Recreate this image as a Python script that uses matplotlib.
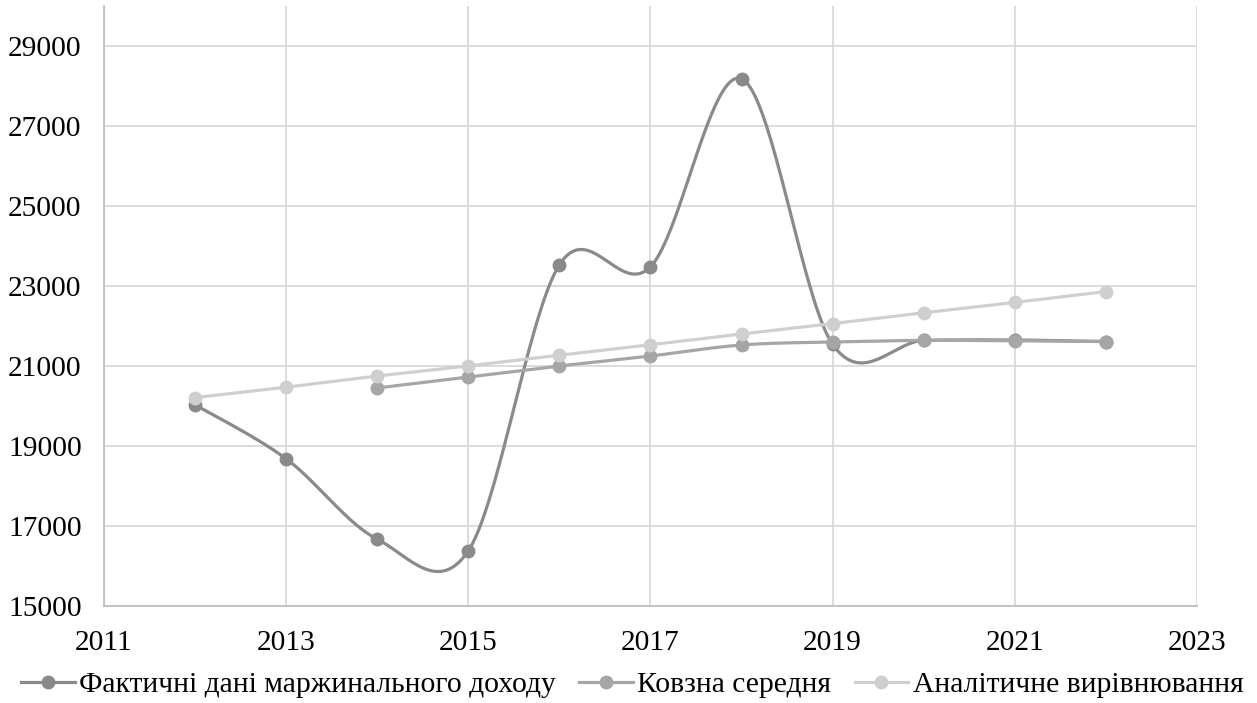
import numpy as np
import matplotlib.pyplot as plt

# Марджинальний дохід по роках
years = [2012, 2013, 2014, 2015, 2016, 2017, 2018, 2019, 2020, 2021, 2022]
actual = [20030, 18680, 16670, 16380, 23530, 23480, 28180, 21540, 21640, 21650, 21610]

ma_years = [2014, 2015, 2016, 2017, 2018, 2019, 2020, 2021, 2022]
moving_avg = [20450, 20725, 21000, 21250, 21525, 21600, 21640, 21630, 21610]

trend = [20210, 20470, 20750, 21000, 21270, 21530, 21800, 22060, 22330, 22590, 22860]

labels = ["Фактичні дані маржинального доходу", "Ковзна середня", "Аналітичне вирівнювання"]
colors = ["#8a8a8a", "#a6a6a6", "#cfcfcf"]


def smooth(x, y, n=40):
    # Catmull-Rom style spline through every point (like Excel's smoothed line)
    x = np.asarray(x, float)
    y = np.asarray(y, float)
    px = np.concatenate([[x[0]], x, [x[-1]]])
    py = np.concatenate([[y[0]], y, [y[-1]]])
    xs, ys = [], []
    t = np.linspace(0, 1, n)
    for i in range(1, len(px) - 2):
        p0 = np.array([px[i], py[i]])
        p3 = np.array([px[i + 1], py[i + 1]])
        c1 = p0 + (p3 - np.array([px[i - 1], py[i - 1]])) / 6
        c2 = p3 - (np.array([px[i + 2], py[i + 2]]) - p0) / 6
        b = ((1 - t) ** 3)[:, None] * p0 + (3 * (1 - t) ** 2 * t)[:, None] * c1 \
            + (3 * (1 - t) * t ** 2)[:, None] * c2 + (t ** 3)[:, None] * p3
        xs.extend(b[:, 0])
        ys.extend(b[:, 1])
    return xs, ys


plt.rcParams["font.family"] = ["Liberation Serif", "DejaVu Serif"]

fig = plt.figure(figsize=(12.57, 7.03), dpi=100)
ax = fig.add_axes([0.0827, 0.138, 0.8696, 0.8535])

lw, ms = 2.3, 9
sx, sy = smooth(years, actual)
ax.plot(sx, sy, color=colors[0], lw=lw, zorder=3)
ax.plot(years, actual, "o", color=colors[0], ms=ms, zorder=3)
sx, sy = smooth(ma_years, moving_avg)
ax.plot(sx, sy, color=colors[1], lw=lw, zorder=4)
ax.plot(ma_years, moving_avg, "o", color=colors[1], ms=ms, zorder=4)
ax.plot(years, trend, "-o", color=colors[2], lw=lw, ms=ms, zorder=5)

# legend proxies: line with marker
handles = [plt.Line2D([], [], color=c, lw=lw, marker="o", ms=ms) for c in colors]
fig.legend(handles, labels, loc="center", bbox_to_anchor=(0.503, 0.026), ncol=3,
           frameon=False, fontsize=21.3, handlelength=1.8, handletextpad=0.15,
           columnspacing=0.8, borderpad=0)

ax.set_xlim(2011, 2023)
ax.set_ylim(15000, 30000)
ax.set_xticks(range(2011, 2024, 2))
ax.set_yticks(range(15000, 30000, 2000))
ax.grid(True, color="#d9d9d9", lw=1.3)
ax.set_axisbelow(True)
ax.tick_params(length=0, labelsize=21.2)
ax.tick_params(axis="y", pad=16)
ax.tick_params(axis="x", pad=17)
for side in ["top", "right"]:
    ax.spines[side].set_visible(False)
for side in ["left", "bottom"]:
    ax.spines[side].set_color("#bfbfbf")
    ax.spines[side].set_linewidth(1.3)

fig.savefig("out.png", dpi=100)
